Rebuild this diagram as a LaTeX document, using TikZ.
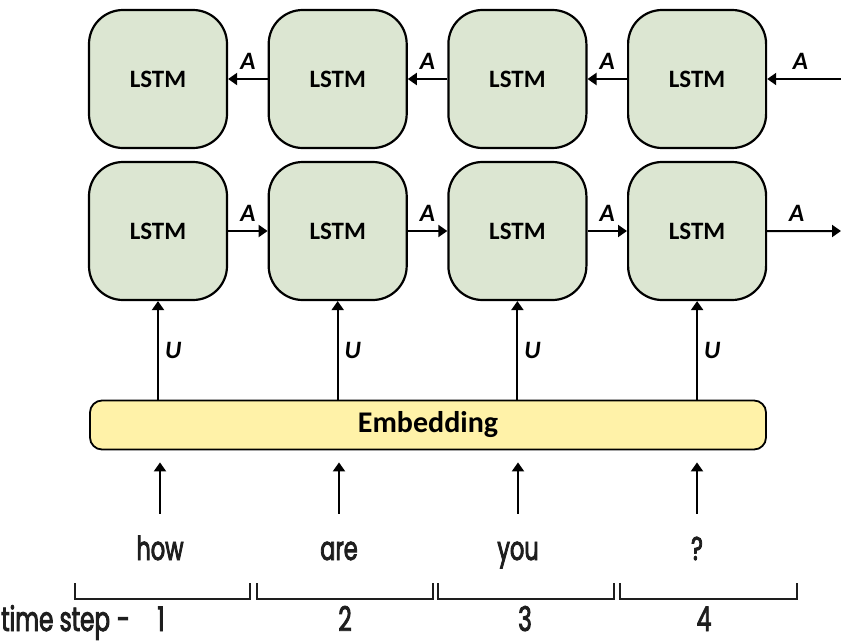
\documentclass[tikz,border=0pt]{standalone}
\usepackage{fontspec}
\usepackage{tikz}
\usetikzlibrary{arrows.meta, positioning, calc}
\setmainfont{Carlito}
\newfontfamily\condfont[FakeStretch=0.68, FakeBold=2.5]{Poppins}
\definecolor{lstmgreen}{HTML}{DCE6D2}
\definecolor{embedyellow}{HTML}{FFF2A8}
\definecolor{inkgray}{HTML}{1E1E1E}

\begin{document}
\begin{tikzpicture}[
    x=1pt, y=-1pt,
    node distance=11.8pt and 39.5pt,
    every node/.style={align=center},
    lstm/.style={rectangle, rounded corners=34pt, draw=black, line width=2.2pt, fill=lstmgreen, minimum width=138pt, minimum height=138pt, font=\fontsize{25}{28}\selectfont\bfseries},
    embed/.style={rectangle, rounded corners=12pt, draw=black, line width=1.8pt, fill=embedyellow, minimum width=676pt, minimum height=49pt, font=\fontsize{30}{32}\selectfont\bfseries},
    alabel/.style={above=8pt, inner sep=1pt, font=\fontsize{25}{28}\selectfont\bfseries\itshape},
    ulabel/.style={right=5pt, inner sep=1pt, font=\fontsize{25}{28}\selectfont\bfseries\itshape},
    word/.style={anchor=base, inner sep=2pt, text height=24pt, text depth=6pt, text=inkgray, font=\fontsize{33}{36}\condfont},
    stepnum/.style={anchor=base, inner sep=0pt, text=inkgray, font=\fontsize{34}{38}\condfont},
    bracket/.style={draw=inkgray, line width=2pt},
    arrow/.style={-{Triangle[length=9pt, width=12pt]}, line width=2pt, draw=black}
]
\useasboundingbox (0,0) rectangle (841,643);

% backward LSTM row
\node[lstm] (t1) at (158,79) {LSTM};
\node[lstm, right=of t1] (t2) {LSTM};
\node[lstm, right=of t2] (t3) {LSTM};
\node[lstm, right=of t3] (t4) {LSTM};

% forward LSTM row
\node[lstm, below=of t1] (b1) {LSTM};
\node[lstm, below=of t2] (b2) {LSTM};
\node[lstm, below=of t3] (b3) {LSTM};
\node[lstm, below=of t4] (b4) {LSTM};

% Embedding layer
\node[embed] (emb) at (428,425) {Embedding};

% input words
\node[word] (w1) at (160,560) {how};
\node[word] (w2) at (339,560) {are};
\node[word] (w3) at (518,560) {you};
\node[word] (w4) at (697,560) {?};

% time steps
\node[stepnum, anchor=base west] (tslabel) at (1,631) {time step\hspace{7pt}-};
\node[stepnum] (n1) at (161,631) {1};
\node[stepnum] (n2) at (345,631) {2};
\node[stepnum] (n3) at (525,631) {3};
\node[stepnum] (n4) at (704,631) {4};

\coordinate (tin) at (841,79);
\coordinate (bout) at (841,231);

% recurrent connections
\draw[arrow] (tin) -- node[alabel, pos=0.55] {A} (t4);
\draw[arrow] (t4) -- node[alabel] {A} (t3);
\draw[arrow] (t3) -- node[alabel] {A} (t2);
\draw[arrow] (t2) -- node[alabel] {A} (t1);
\draw[arrow] (b1) -- node[alabel] {A} (b2);
\draw[arrow] (b2) -- node[alabel] {A} (b3);
\draw[arrow] (b3) -- node[alabel] {A} (b4);
\draw[arrow] (b4) -- node[alabel, pos=0.4] {A} (bout);

% embedding to LSTM
\foreach \i in {1,...,4} {
  \draw[arrow] (b\i |- emb.north) -- node[ulabel] {U} (b\i.south);
  \draw[arrow, shorten <=20pt, shorten >=12pt] (w\i.north) -- (w\i |- emb.south);
}

% brackets
\foreach \l/\r in {75/250, 257/433, 438/614, 620/797} {
  \draw[bracket] (\l,583) |- (\r,599) -- (\r,583);
}

\end{tikzpicture}
\end{document}
